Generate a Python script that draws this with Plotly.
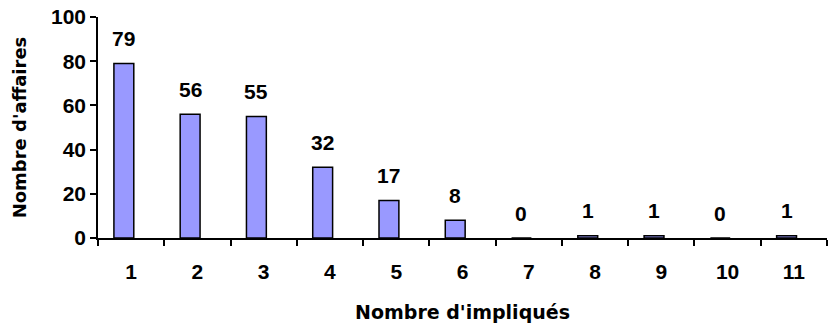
import plotly.graph_objects as go

# Number of people involved per case, and the count of cases
impliques = [1, 2, 3, 4, 5, 6, 7, 8, 9, 10, 11]
affaires = [79, 56, 55, 32, 17, 8, 0, 1, 1, 0, 1]
y_ticks = [0, 20, 40, 60, 80, 100]

BAR_OFFSET = -0.26
BAR_WIDTH = 0.30
NUM_FONT = "Liberation Sans, Arial, sans-serif"
TITLE_FONT = "DejaVu Sans, Arial, sans-serif"

fig = go.Figure()
fig.add_trace(go.Bar(
    x=impliques,
    y=affaires,
    width=BAR_WIDTH,
    offset=BAR_OFFSET,
    marker=dict(color="#9999FF", line=dict(color="black", width=1.5)),
    hoverinfo="x+y",
))

# value labels above each bar
for xv, yv in zip(impliques, affaires):
    fig.add_annotation(
        x=xv + BAR_OFFSET + BAR_WIDTH / 2, y=yv,
        text=f"<b>{yv}</b>", showarrow=False,
        yanchor="middle", yshift=25,
        font=dict(family=NUM_FONT, size=21, color="black"),
    )

fig.update_layout(
    width=828, height=327,
    margin=dict(l=98, r=1, t=17, b=89),
    paper_bgcolor="white", plot_bgcolor="white",
    showlegend=False,
    font=dict(family=NUM_FONT, size=21, color="black"),
    xaxis=dict(
        range=[0.5, 11.5],
        tickmode="array",
        tickvals=impliques,
        ticktext=[f"<b>{v}</b>" for v in impliques],
        ticks="",
        ticklabelstandoff=14,
        tickfont=dict(family=NUM_FONT, size=21),
        showline=True, linecolor="black", linewidth=1.5,
        showgrid=False, zeroline=False,
        minor=dict(
            tickmode="array",
            tickvals=[v - 0.5 for v in impliques] + [11.5],
            ticks="outside", ticklen=6, tickwidth=1.5, tickcolor="black",
            showgrid=False,
        ),
        title=dict(text="<b>Nombre d'impliqués</b>", standoff=24,
                   font=dict(family=TITLE_FONT, size=19)),
        fixedrange=True,
    ),
    yaxis=dict(
        range=[0, 100],
        tickmode="array",
        tickvals=y_ticks,
        ticktext=[f"<b>{v}</b>" for v in y_ticks],
        ticks="outside", ticklen=6, tickwidth=1.5, tickcolor="black",
        tickfont=dict(family=NUM_FONT, size=21),
        showline=True, linecolor="black", linewidth=1.5,
        showgrid=False, zeroline=False,
        title=dict(text="<b>Nombre d'affaires</b>", standoff=20,
                   font=dict(family=TITLE_FONT, size=18)),
        fixedrange=True,
    ),
)

fig.write_html("out.html")
